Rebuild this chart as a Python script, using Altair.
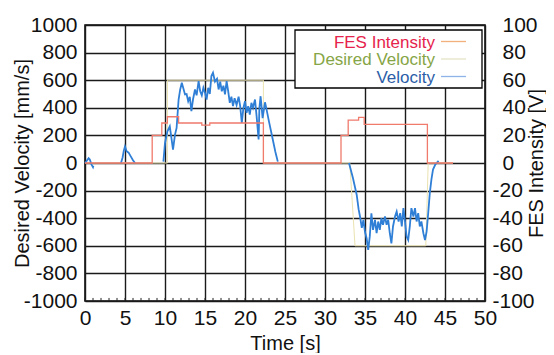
import altair as alt
import pandas as pd

FONT = "Liberation Sans"

# ---------------- data ----------------
# measured velocity [mm/s], in segments where the arm moves
vel_seg_t = [
    [0.0, 0.2, 0.45, 0.6, 0.8, 1.0, 1.05],
    [4.5, 4.7, 4.85, 5.0, 5.2, 5.45, 5.7, 6.0, 6.25],
    [9.8, 10.0, 10.3, 10.6, 10.8, 11.0, 11.25, 11.45, 11.7, 11.9, 12.1, 12.3,
     12.5, 12.7, 12.9, 13.1, 13.3, 13.5, 13.75, 13.95, 14.2, 14.4, 14.6, 14.8,
     15.0, 15.2, 15.4, 15.6, 15.8, 16.0, 16.25, 16.5, 16.7, 16.9, 17.1, 17.3,
     17.5, 17.7, 17.9, 18.1, 18.3, 18.5, 18.7, 18.95, 19.2, 19.4, 19.6, 19.8,
     20.0, 20.2, 20.4, 20.6, 20.8, 21.0, 21.25, 21.45, 21.7, 21.8, 21.95, 22.2,
     22.5, 22.7, 23.0, 23.4, 23.8, 24.1],
    [33.0, 33.5, 33.96, 34.2, 34.4, 34.6, 34.8, 35.0, 35.2, 35.4, 35.6, 35.8,
     36.0, 36.25, 36.45, 36.65, 36.85, 37.05, 37.25, 37.5, 37.7, 37.9, 38.1,
     38.3, 38.5, 38.75, 38.96, 39.2, 39.4, 39.6, 39.8, 40.0, 40.2, 40.4, 40.6,
     40.8, 41.05, 41.25, 41.45, 41.65, 41.85, 42.05, 42.3, 42.5, 42.7, 42.9,
     43.1, 43.3, 43.5, 43.8, 44.2],
]
vel_seg_v = [
    [0, 15, 35, 25, -10, -30, -20],
    [0, 40, 90, 120, 85, 75, 50, 20, 0],
    [10, 145, 230, 266, 182, 97, 206, 254, 460, 533, 582, 540,
     497, 500, 448, 480, 375, 460, 533, 490, 593, 520, 490, 545,
     510, 460, 545, 500, 630, 654, 590, 610, 533, 590, 520, 560,
     497, 593, 520, 436, 480, 412, 470, 420, 480, 412, 290, 400,
     448, 364, 412, 350, 436, 400, 460, 340, 170, 400, 484, 325,
     440, 387, 300, 190, 80, 10],
    [0, -110, -230, -335, -395, -470, -412, -500, -545, -630, -530, -364,
     -485, -412, -509, -424, -485, -400, -448, -388, -448, -412, -509,
     -582, -460, -388, -352, -424, -364, -460, -327, -424, -533, -558, -460,
     -327, -388, -327, -424, -364, -460, -424, -509, -558, -497, -364,
     -218, -121, -48, -10, 15],
]

# desired velocity [mm/s]
des_t = [0, 10.3, 10.3, 22.3, 22.3, 33.1, 33.75, 42.6, 42.9, 46]
des_v = [0, 0, 600, 600, 0, 0, -600, -600, 0, 0]

# FES intensity [V]
fes_t = [0, 8.4, 8.4, 9.6, 9.6, 10.3, 10.3, 11.7, 11.7, 14.6, 14.6, 15.6, 15.6,
         22.3, 22.3, 32.0, 32.0, 32.9, 32.9, 34.2, 34.2, 34.9, 34.9, 42.8, 42.8, 46]
fes_v = [0, 0, 20, 20, 29, 29, 33.5, 33.5, 29, 29, 27.5, 27.5, 29,
         29, 0, 0, 20, 20, 31, 31, 33, 33, 28, 28, 0, 0]

# axis ticks
x_ticks = list(range(0, 51, 5))
x_minor = list(range(0, 51, 1))
vel_ticks = list(range(-1000, 1001, 200))
fes_ticks = list(range(-100, 101, 20))

legend_names = ["FES Intensity", "Desired Velocity", "Velocity"]
legend_text_colors = ["#e6234c", "#86a546", "#2c5ea8"]
legend_line_colors = ["#f2b07c", "#e4e4c4", "#8fb3e6"]

# ---------------- tables ----------------
vel_rows = []
for s, (ts, vs) in enumerate(zip(vel_seg_t, vel_seg_v)):
    for t, v in zip(ts, vs):
        vel_rows.append({"t": t, "v": v, "seg": s})
vel_df = pd.DataFrame(vel_rows)
des_df = pd.DataFrame({"t": des_t, "v": des_v, "i": range(len(des_t))})
fes_df = pd.DataFrame({"t": fes_t, "f": fes_v, "i": range(len(fes_t))})
minor_df = pd.DataFrame({"t": x_minor, "lo": [-1000] * len(x_minor), "hi": [-978] * len(x_minor)})

GRID = "#1a1a1a"

x_axis = alt.Axis(values=x_ticks, grid=True, gridColor=GRID, gridWidth=1.4, gridOpacity=1,
                  ticks=False, domain=False, labelFontSize=21, labelFont=FONT, labelColor="#111",
                  labelPadding=6, labelFlush=False, labelOverlap=False,
                  labelExpr="'' + datum.value",
                  title="Time [s]", titleFont=FONT, titleFontSize=20, titleFontWeight="normal",
                  titleColor="#111", titleY=48, titleBaseline="alphabetic")
x_enc = alt.X("t:Q", scale=alt.Scale(domain=[0, 50], nice=False, zero=False), axis=x_axis)

vel_axis = alt.Axis(values=vel_ticks, grid=True, gridColor=GRID, gridWidth=1.4, gridOpacity=1,
                    ticks=False, domain=False, labelFontSize=21, labelFont=FONT, labelColor="#111",
                    labelPadding=8, labelOverlap=False, labelFlush=False,
                    labelExpr="'' + datum.value",
                    title="Desired Velocity [mm/s]", titleFont=FONT, titleFontSize=20,
                    titleFontWeight="normal", titleColor="#111", titleAngle=270,
                    titleX=-63, titleY=138, titleBaseline="middle", titleAlign="center")
vel_scale = alt.Scale(domain=[-1000, 1000], nice=False, zero=False)

fes_axis = alt.Axis(orient="right", values=fes_ticks, grid=False, ticks=False, domain=False,
                    labelFontSize=21, labelFont=FONT, labelColor="#111", labelAlign="left",
                    labelPadding={"condition": {"test": "datum.value < 0", "value": 7}, "value": 17},
                    labelOverlap=False, labelFlush=False, labelExpr="'' + datum.value",
                    title="FES Intensity [V]", titleFont=FONT, titleFontSize=20,
                    titleFontWeight="normal", titleColor="#111", titleAngle=270,
                    titleX=51, titleY=138, titleBaseline="middle", titleAlign="center")

minor = alt.Chart(minor_df).mark_rule(color="#222", strokeWidth=1).encode(
    x=x_enc,
    y=alt.Y("lo:Q", scale=vel_scale, axis=vel_axis),
    y2="hi:Q",
)

des_line = alt.Chart(des_df).mark_line(color="#ebe3b0", strokeWidth=1).encode(
    x=x_enc,
    y=alt.Y("v:Q", scale=vel_scale, axis=vel_axis),
    order="i:Q",
)

vel_line = alt.Chart(vel_df).mark_line(color="#2f7fd6", strokeWidth=1.8).encode(
    x=x_enc,
    y=alt.Y("v:Q", scale=vel_scale, axis=vel_axis),
    detail="seg:N",
)

left = alt.layer(minor, des_line, vel_line)

fes_line = alt.Chart(fes_df).mark_line(color="#f07a6c", strokeWidth=1.3).encode(
    x=x_enc,
    y=alt.Y("f:Q", scale=alt.Scale(domain=[-100, 100], nice=False, zero=False), axis=fes_axis),
    order="i:Q",
)

# legend (drawn as a box with coloured labels and short line samples)
one = pd.DataFrame({"k": [0]})
legend_box = alt.Chart(one).mark_rect(fill="white", stroke="black", strokeWidth=1.3).encode(
    x=alt.value(210), x2=alt.value(397), y=alt.value(5), y2=alt.value(63)
)
legend_layers = [legend_box]
text_base = [22.5, 40.0, 57.5]
for k, name in enumerate(legend_names):
    df = pd.DataFrame({"name": [name]})
    legend_layers.append(
        alt.Chart(df).mark_text(align="right", baseline="alphabetic", fontSize=17, font=FONT,
                                color=legend_text_colors[k]).encode(
            x=alt.value(350), y=alt.value(text_base[k]), text="name:N")
    )
    legend_layers.append(
        alt.Chart(df).mark_rule(color=legend_line_colors[k], strokeWidth=1.3).encode(
            x=alt.value(356), x2=alt.value(381), y=alt.value(text_base[k] - 6))
    )

chart = alt.layer(left, fes_line, *legend_layers).resolve_scale(y="independent").properties(
    width=400, height=276,
    autosize=alt.AutoSizeParams(type="none"),
    padding={"left": 77, "top": 17, "right": 61, "bottom": 52},
    background="white",
).configure_view(stroke="black", strokeWidth=1.5)

chart.save("out.html", embed_options={"renderer": "svg", "actions": False})
